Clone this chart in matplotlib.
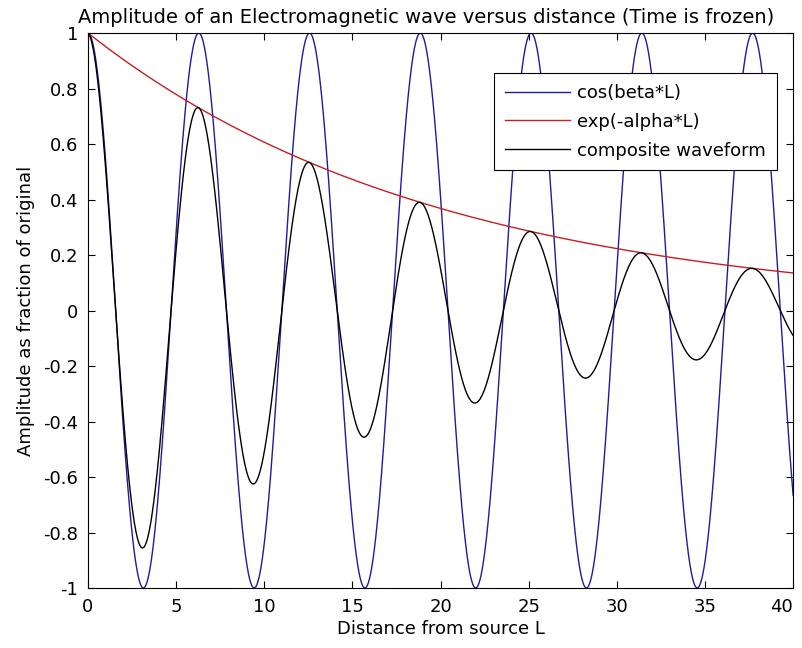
import numpy as np
import matplotlib
matplotlib.use("Agg")
import matplotlib.pyplot as plt

# wave parameters
beta = 1.0
alpha = 0.05
L_max = 40
n_pts = 2000

L = np.linspace(0, L_max, n_pts)
carrier = np.cos(beta * L)
envelope = np.exp(-alpha * L)
composite = carrier * envelope

x_ticks = [0, 5, 10, 15, 20, 25, 30, 35, 40]
y_ticks = [-1, -0.8, -0.6, -0.4, -0.2, 0, 0.2, 0.4, 0.6, 0.8, 1]
y_labels = ["-1", "-0.8", "-0.6", "-0.4", "-0.2", "0", "0.2", "0.4", "0.6", "0.8", "1"]

plt.rcParams["font.family"] = ["DejaVu Sans"]
plt.rcParams["font.size"] = 13

fig = plt.figure(figsize=(8.02, 6.48), dpi=100)
ax = fig.add_axes([0.1097, 0.0926, 0.8793, 0.8564])

ax.plot(L, carrier, color="#1c1c9c", lw=1.0, label="cos(beta*L)")
ax.plot(L, envelope, color="#c81e1e", lw=1.0, label="exp(-alpha*L)")
ax.plot(L, composite, color="black", lw=1.0, label="composite waveform")

ax.set_xlim(0, L_max)
ax.set_ylim(-1, 1)
ax.set_xticks(x_ticks)
ax.set_xticklabels([str(t) for t in x_ticks])
ax.set_yticks(y_ticks)
ax.set_yticklabels(y_labels)
ax.tick_params(direction="in", top=True, right=True, length=5, width=0.8, pad=7)
for s in ax.spines.values():
    s.set_linewidth(0.8)
# keep the last x label inside the figure
ax.get_xticklabels()[-1].set_horizontalalignment("right")

ax.set_title("Amplitude of an Electromagnetic wave versus distance (Time is frozen)",
             fontsize=14, pad=7, x=0.48)
ax.set_xlabel("Distance from source L", labelpad=3)
ax.set_ylabel("Amplitude as fraction of original", labelpad=6)

leg = ax.legend(loc="upper right", bbox_to_anchor=(0.977, 0.928), fancybox=False,
                framealpha=1, edgecolor="black", handlelength=3.6,
                borderaxespad=0, labelspacing=0.6, handletextpad=0.4,
                borderpad=0.6)
leg.get_frame().set_linewidth(0.8)

fig.savefig("out.png", dpi=100)
